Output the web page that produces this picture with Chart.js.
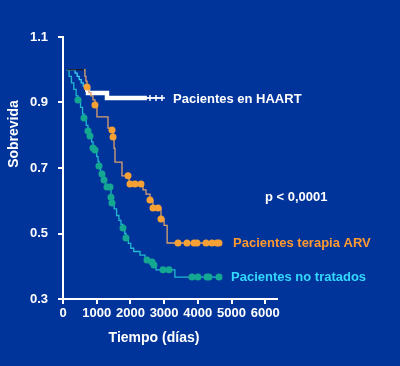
<!DOCTYPE html>
<html>
<head>
<meta charset="utf-8">
<script src="https://cdn.jsdelivr.net/npm/chart.js@4"></script>
<style>
    body { margin: 0; background: #00349a; }
    canvas { display: block; }
</style>
</head>
<body>
<canvas id="km-chart" width="400" height="366"></canvas>
<script>
const TIME_TICKS = [0, 1000, 2000, 3000, 4000, 5000, 6000]
const SURV_TICKS = [0.3, 0.5, 0.7, 0.9, 1.1]

// Pacientes en HAART
const haartT = [100, 300, 360, 420, 480, 540, 600, 653, 742, 1305, 2490, 2940]
const haartS = [1.0, 1.0, 0.99, 0.98, 0.97, 0.96, 0.95, 0.94, 0.929, 0.914, 0.914, 0.914]
const haartCensT = [2581, 2759, 2937]
const haartCensS = [0.914, 0.914, 0.914]

// Pacientes terapia ARV
const arvT = [100, 623, 650, 680, 712, 771, 830, 890, 949, 1008, 1335, 1454, 1484, 1515, 1543,
    1750, 1929, 1960, 2314, 2374, 2463, 2581, 2670, 2819, 2908, 3000, 3090, 4628]
const arvS = [1.0, 1.0, 0.98, 0.965, 0.947, 0.93, 0.92, 0.908, 0.892, 0.856, 0.822, 0.816, 0.795, 0.76, 0.718,
    0.676, 0.676, 0.651, 0.651, 0.633, 0.62, 0.602, 0.578, 0.578, 0.544, 0.525, 0.471, 0.471]
const arvCensT = [712, 949, 1454, 1484, 1929, 1988, 2136, 2314, 2581, 2670, 2819, 2908,
    3412, 3679, 3887, 3976, 4243, 4421, 4569, 4628]
const arvCensS = [0.947, 0.892, 0.816, 0.795, 0.676, 0.651, 0.651, 0.651, 0.602, 0.578, 0.578, 0.544,
    0.471, 0.471, 0.471, 0.471, 0.471, 0.471, 0.471, 0.471]

// Pacientes no tratados
const noTxT = [100, 180, 250, 320, 390, 445, 520, 580, 623, 690, 742, 801, 850, 890, 950, 1000, 1040,
    1068, 1110, 1157, 1217, 1260, 1305, 1394, 1424, 1454, 1520, 1590, 1660, 1720, 1780, 1830, 1869,
    1940, 2010, 2100, 2285, 2433, 2492, 2641, 2700, 2760, 3145, 3320, 4628]
const noTxS = [1.0, 0.98, 0.96, 0.94, 0.92, 0.908, 0.885, 0.865, 0.853, 0.83, 0.813, 0.798, 0.78, 0.761,
    0.755, 0.735, 0.72, 0.706, 0.69, 0.682, 0.663, 0.65, 0.642, 0.642, 0.611, 0.593, 0.575, 0.555, 0.54,
    0.528, 0.517, 0.5, 0.486, 0.47, 0.455, 0.445, 0.434, 0.425, 0.419, 0.413, 0.404, 0.389, 0.389,
    0.367, 0.367]
const noTxCensT = [445, 623, 742, 801, 890, 950, 1068, 1157, 1217, 1305, 1394, 1424, 1454, 1780, 1869,
    2492, 2641, 2700, 2967, 3145, 3827, 4005, 4272, 4332, 4628]
const noTxCensS = [0.908, 0.853, 0.813, 0.798, 0.761, 0.755, 0.706, 0.682, 0.663, 0.642, 0.642, 0.611,
    0.593, 0.517, 0.486, 0.419, 0.413, 0.404, 0.389, 0.389, 0.367, 0.367, 0.367, 0.367, 0.367]

const FONT = "'Liberation Sans', Arial, sans-serif"

const toPoints = (xs, ys) => xs.map((x, i) => ({ x: x, y: ys[i] }))

const marks = (xs, ys, color, style) => ({
    type: 'scatter',
    data: toPoints(xs, ys),
    pointStyle: style,
    pointRadius: style === 'cross' ? 3 : 3.5,
    pointBackgroundColor: color,
    pointBorderColor: color,
    pointBorderWidth: style === 'cross' ? 1.5 : 0,
    showLine: false
})

const curve = (xs, ys, color, segment) => ({
    type: 'line',
    data: toPoints(xs, ys),
    stepped: true,
    borderColor: color,
    borderWidth: 1.3,
    pointRadius: 0,
    fill: false,
    segment: segment
})

const labels = {
    id: 'labels',
    beforeDraw(chart) {
        const ctx = chart.ctx
        ctx.save()
        ctx.fillStyle = '#00349a'
        ctx.fillRect(0, 0, chart.width, chart.height)
        ctx.restore()
    },
    afterDraw(chart) {
        const ctx = chart.ctx
        ctx.save()
        ctx.font = `bold 13px ${FONT}`
        ctx.textBaseline = 'middle'
        ctx.textAlign = 'left'
        ctx.fillStyle = '#ffffff'
        ctx.fillText('Pacientes en HAART', 173, 99)
        ctx.fillText('p < 0,0001', 265, 197)
        ctx.fillStyle = '#ff9a30'
        ctx.fillText('Pacientes terapia ARV', 233, 243)
        ctx.fillStyle = '#33d8ff'
        ctx.fillText('Pacientes no tratados', 231, 277)

        ctx.fillStyle = '#ffffff'
        ctx.font = `bold 14px ${FONT}`
        ctx.textAlign = 'center'
        ctx.fillText('Tiempo (días)', 154, 338)
        ctx.translate(14, 134)
        ctx.rotate(-Math.PI / 2)
        ctx.fillText('Sobrevida', 0, 0)
        ctx.restore()
    }
}

document.addEventListener('DOMContentLoaded', () => {
    const ctx = document.getElementById('km-chart').getContext('2d')

    new Chart(ctx, {
        data: {
            datasets: [
                marks(haartCensT, haartCensS, '#ffffff', 'cross'),
                marks(arvCensT, arvCensS, '#f7a035', 'circle'),
                marks(noTxCensT, noTxCensS, '#14a892', 'circle'),
                curve(arvT, arvS, '#d9a070', {
                    borderColor: c => c.p1.parsed.x <= 623 ? '#1a1a2a' : undefined
                }),
                curve(haartT, haartS, '#40d0f0', {
                    borderColor: c => c.p0.parsed.x >= 653 ? '#ffffff' : undefined,
                    borderWidth: c => (c.p0.parsed.x >= 653 && c.p1.parsed.x <= 2490) ? 4.5 : undefined
                }),
                curve(noTxT, noTxS, '#22b8d0')
            ]
        },
        options: {
            responsive: false,
            animation: false,
            layout: { padding: { top: 37, right: 123, left: 0, bottom: 0 } },
            plugins: {
                legend: { display: false },
                tooltip: { enabled: false }
            },
            scales: {
                x: {
                    type: 'linear',
                    min: 0,
                    max: 6350,
                    afterFit: s => { s.height = 67 },
                    afterBuildTicks: s => { s.ticks = TIME_TICKS.map(v => ({ value: v })) },
                    border: { color: '#ffffff', width: 2 },
                    grid: { drawOnChartArea: false, color: '#ffffff', lineWidth: 2, tickLength: 5 },
                    ticks: {
                        color: '#ffffff',
                        padding: 2,
                        maxRotation: 0,
                        autoSkip: false,
                        font: { family: FONT, size: 13, weight: 'bold' },
                        callback: v => String(v)
                    }
                },
                y: {
                    type: 'linear',
                    min: 0.3,
                    max: 1.1,
                    afterFit: s => { s.width = 63 },
                    afterBuildTicks: s => { s.ticks = SURV_TICKS.map(v => ({ value: v })) },
                    border: { color: '#ffffff', width: 2 },
                    grid: { drawOnChartArea: false, color: '#ffffff', lineWidth: 2, tickLength: 5 },
                    ticks: {
                        color: '#ffffff',
                        padding: 10,
                        autoSkip: false,
                        font: { family: FONT, size: 13, weight: 'bold' },
                        callback: v => v.toFixed(1)
                    }
                }
            }
        },
        plugins: [labels]
    })
})
</script>
</body>
</html>
